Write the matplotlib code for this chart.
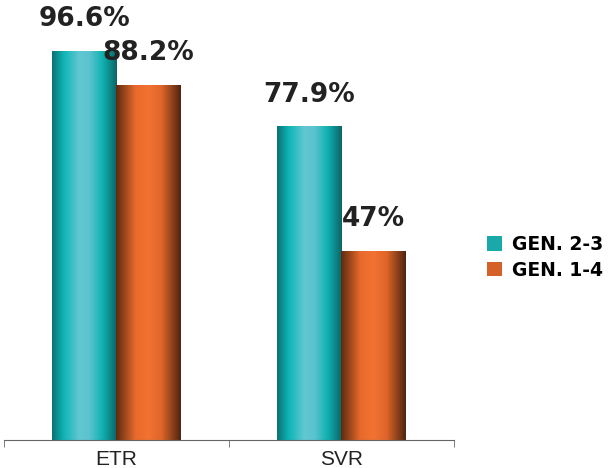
import numpy as np
import matplotlib
matplotlib.use("Agg")
import matplotlib.pyplot as plt
from matplotlib.colors import LinearSegmentedColormap
from matplotlib.patches import Patch

# data
categories = ["ETR", "SVR"]
series_names = ["GEN. 2-3", "GEN. 1-4"]
gen23 = [96.6, 77.9]
gen14 = [88.2, 47.0]
value_labels_23 = ["96.6%", "77.9%"]
value_labels_14 = ["88.2%", "47%"]

teal_cmap = LinearSegmentedColormap.from_list(
    "teal", [(0.0, "#0c6f72"), (0.18, "#0db5b6"), (0.42, "#62c7d2"),
             (0.58, "#5ac3cf"), (0.78, "#10b1b1"), (1.0, "#0b6466")])
orange_cmap = LinearSegmentedColormap.from_list(
    "orange", [(0.0, "#5e2a10"), (0.3, "#e86a2c"), (0.5, "#f27232"),
               (0.7, "#e0662a"), (1.0, "#4e2410")])

fig = plt.figure(figsize=(6.15, 4.68), dpi=100)
ax = fig.add_axes([4 / 615, 1 - 440 / 468, 450 / 615, 440 / 468])

x = np.arange(len(categories))
w = 0.285
bars1 = ax.bar(x - w / 2, gen23, w, color="none", edgecolor="none")
bars2 = ax.bar(x + w / 2, gen14, w, color="none", edgecolor="none")

grad = np.linspace(0, 1, 256).reshape(1, -1)
for bars, cmap in [(bars1, teal_cmap), (bars2, orange_cmap)]:
    for b in bars:
        x0, y0 = b.get_x(), b.get_y()
        ax.imshow(grad, cmap=cmap, aspect="auto", interpolation="bicubic",
                  extent=[x0, x0 + b.get_width(), y0, y0 + b.get_height()],
                  zorder=2)

for bars, labels in [(bars1, value_labels_23), (bars2, value_labels_14)]:
    for b, lab in zip(bars, labels):
        ax.annotate(lab, (b.get_x() + b.get_width() / 2, b.get_height()),
                    xytext=(0, 14), textcoords="offset points",
                    ha="center", va="bottom", fontsize=19,
                    fontweight="bold", color="#222222", annotation_clip=False)

ax.set_xlim(-0.5, 1.5)
ax.set_ylim(0, 109.5)
ax.set_xticks(x)
ax.set_xticklabels(categories, fontsize=15, family="Liberation Sans",
                   color="#222222")
ax.tick_params(axis="x", which="major", length=0, pad=7)
ax.set_xticks([-0.5, 0.5, 1.5], minor=True)
ax.tick_params(axis="x", which="minor", length=5, color="#666666")
ax.set_yticks([])
for s in ["top", "right", "left"]:
    ax.spines[s].set_visible(False)
ax.spines["bottom"].set_color("#666666")

handles = [Patch(facecolor="#1aa9ab"), Patch(facecolor="#d4602a")]
fig.legend(handles, series_names, loc="center left",
           bbox_to_anchor=(0.765, 0.45), frameon=False, handlelength=0.8,
           handleheight=0.8, handletextpad=0.5, labelspacing=0.35,
           prop={"family": "DejaVu Sans", "weight": "bold", "size": 13.5})

fig.savefig("out.png", dpi=100)
